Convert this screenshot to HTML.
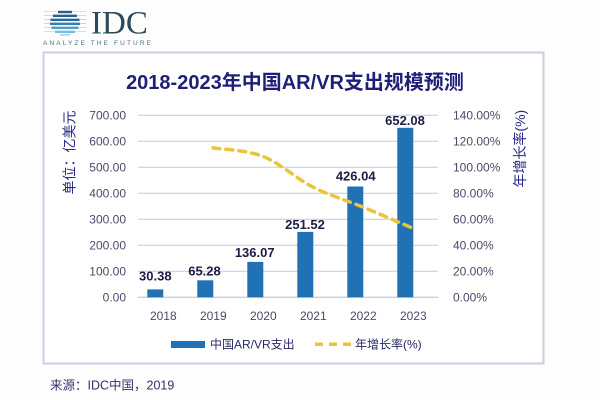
<!DOCTYPE html>
<html><head><meta charset="utf-8"><style>
html,body{margin:0;padding:0;background:#fdfdfd;}
svg{display:block;}
text{font-family:"Liberation Sans","Noto Sans CJK SC",sans-serif;}
</style></head><body>
<svg width="600" height="400" viewBox="0 0 600 400" xmlns="http://www.w3.org/2000/svg">
<rect x="0" y="0" width="600" height="400" fill="#fdfdfd"/>
<!-- IDC logo -->
<g>
  <g stroke-width="2.4">
    <line x1="44" y1="11.5" x2="86" y2="11.5" stroke="#cdd6de" stroke-width="0.8"/>
    <line x1="58" y1="12" x2="72" y2="12" stroke="#2f5f86"/>
    <line x1="44" y1="15.5" x2="86" y2="15.5" stroke="#c4cfd8" stroke-width="0.8"/>
    <line x1="53" y1="15.8" x2="77" y2="15.8" stroke="#2a5f8c"/>
    <line x1="44" y1="19.5" x2="86" y2="19.5" stroke="#bcc9d3" stroke-width="0.8"/>
    <line x1="50.5" y1="19.8" x2="79.5" y2="19.8" stroke="#276a9c"/>
    <line x1="44" y1="23.5" x2="86" y2="23.5" stroke="#bcc9d3" stroke-width="0.8"/>
    <line x1="50" y1="23.8" x2="80" y2="23.8" stroke="#3580b0"/>
    <line x1="44" y1="27.5" x2="86" y2="27.5" stroke="#c4cfd8" stroke-width="0.8"/>
    <line x1="51.5" y1="27.8" x2="78.5" y2="27.8" stroke="#4f9cc4"/>
    <line x1="44" y1="31.5" x2="86" y2="31.5" stroke="#cdd6de" stroke-width="0.8"/>
    <line x1="55" y1="31.8" x2="75" y2="31.8" stroke="#7dbbd8"/>
    <line x1="60" y1="34.8" x2="70" y2="34.8" stroke="#a6d3e6" stroke-width="1.6"/>
  </g>
  <text x="91" y="33.5" font-size="33" fill="#2c4a5c" style="font-family:'Liberation Serif',serif">IDC</text>
  <text x="43" y="45" font-size="6.5" fill="#4f6f86" textLength="108" lengthAdjust="spacing">ANALYZE THE FUTURE</text>
</g>
<!-- frame -->
<rect x="43.5" y="52.5" width="500" height="311" fill="#ffffff" stroke="#cdcedf" stroke-width="2"/>
<!-- title -->
<text x="295" y="89" text-anchor="middle" font-size="20" font-weight="bold" fill="#1f1f78">2018-2023年中国AR/VR支出规模预测</text>
<!-- gridlines -->
<g stroke="#c3c6e0" stroke-width="1">
  <line x1="138" y1="115.3" x2="438" y2="115.3"/>
  <line x1="138" y1="141.3" x2="438" y2="141.3"/>
  <line x1="138" y1="167.3" x2="438" y2="167.3"/>
  <line x1="138" y1="193.3" x2="438" y2="193.3"/>
  <line x1="138" y1="219.3" x2="438" y2="219.3"/>
  <line x1="138" y1="245.3" x2="438" y2="245.3"/>
  <line x1="138" y1="271.3" x2="438" y2="271.3"/>
  <line x1="138" y1="297.3" x2="438" y2="297.3" stroke="#b8bbd6"/>
</g>
<!-- left axis labels -->
<g font-size="12" fill="#4a4a6c" text-anchor="end">
  <text x="126" y="119.6">700.00</text>
  <text x="126" y="145.6">600.00</text>
  <text x="126" y="171.6">500.00</text>
  <text x="126" y="197.6">400.00</text>
  <text x="126" y="223.6">300.00</text>
  <text x="126" y="249.6">200.00</text>
  <text x="126" y="275.6">100.00</text>
  <text x="126" y="301.6">0.00</text>
</g>
<!-- right axis labels -->
<g font-size="12" fill="#4a4a6c" text-anchor="start">
  <text x="453" y="119.6">140.00%</text>
  <text x="453" y="145.6">120.00%</text>
  <text x="453" y="171.6">100.00%</text>
  <text x="453" y="197.6">80.00%</text>
  <text x="453" y="223.6">60.00%</text>
  <text x="453" y="249.6">40.00%</text>
  <text x="453" y="275.6">20.00%</text>
  <text x="453" y="301.6">0.00%</text>
</g>
<!-- axis titles -->
<text transform="translate(74.5,152.5) rotate(-90)" text-anchor="middle" font-size="14" fill="#2a2a8a">单位：亿美元</text>
<text transform="translate(525,148.7) rotate(-90)" text-anchor="middle" font-size="14" fill="#2a2a8a">年增长率(%)</text>
<!-- bars -->
<g fill="#2171b5">
  <rect x="147.3" y="289.4" width="16" height="7.9"/>
  <rect x="197.3" y="280.3" width="16" height="17"/>
  <rect x="247.3" y="261.9" width="16" height="35.4"/>
  <rect x="297.3" y="231.9" width="16" height="65.4"/>
  <rect x="347.3" y="186.5" width="16" height="110.8"/>
  <rect x="397.3" y="127.8" width="16" height="169.5"/>
</g>
<!-- value labels -->
<g font-size="13" font-weight="bold" fill="#1c1c44" text-anchor="middle">
  <text x="155.3" y="280.7">30.38</text>
  <text x="204.5" y="275.7">65.28</text>
  <text x="254.7" y="257.2">136.07</text>
  <text x="305" y="229.2">251.52</text>
  <text x="355.7" y="180.7">426.04</text>
  <text x="405" y="125.2">652.08</text>
</g>
<!-- growth line -->
<path d="M213,147.9 C221.3,149.3 246.3,149.9 263,156.4 C279.7,162.9 296.3,178.65 313,187.1 C329.7,195.55 346.3,200.23 363,207.1 C379.7,213.97 404.7,224.77 413,228.3" fill="none" stroke="#e8c53a" stroke-width="3.5" stroke-dasharray="7 6" stroke-linecap="round"/>
<!-- year labels -->
<g font-size="12" fill="#4a4a6c" text-anchor="middle">
  <text x="163.3" y="320">2018</text>
  <text x="213.3" y="320">2019</text>
  <text x="263.3" y="320">2020</text>
  <text x="313.3" y="320">2021</text>
  <text x="363.3" y="320">2022</text>
  <text x="413.3" y="320">2023</text>
</g>
<!-- legend -->
<rect x="171" y="341" width="34" height="7" fill="#2171b5"/>
<text x="210" y="348.5" font-size="12" fill="#2a2a6a">中国AR/VR支出</text>
<line x1="315" y1="344.3" x2="351" y2="344.3" stroke="#e8c53a" stroke-width="3.5" stroke-dasharray="8 6" stroke-linecap="butt"/>
<text x="355" y="348.5" font-size="12" fill="#2a2a6a">年增长率(%)</text>
<!-- footer -->
<text x="50" y="389.5" font-size="12.5" fill="#33336a">来源：IDC中国，2019</text>
</svg>
</body></html>
